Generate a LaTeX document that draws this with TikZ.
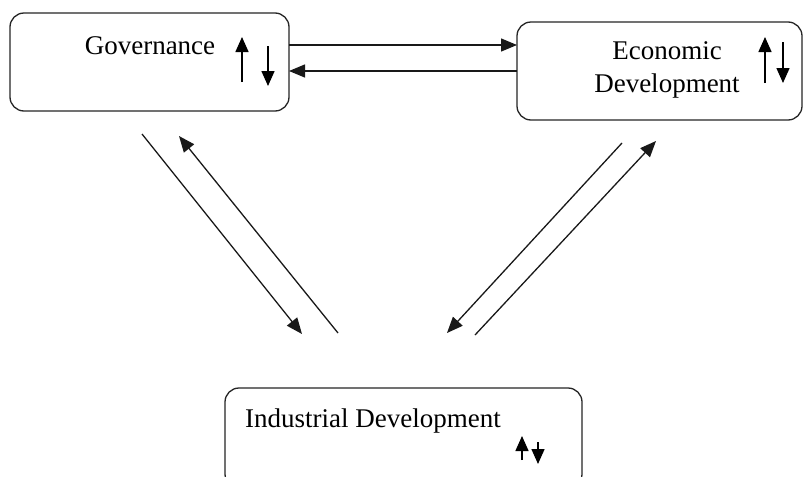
\documentclass[tikz,border=0pt]{standalone}
\usepackage{fontspec}
\setmainfont{Liberation Serif}
\usetikzlibrary{arrows.meta}
\begin{document}
\begin{tikzpicture}[x=1pt,y=-1pt,
  box/.style={draw=black!85, line width=1.3pt, rounded corners=14pt, inner sep=0pt, outer sep=0pt},
  lbl/.style={font=\fontsize{27}{33}\selectfont, inner sep=0pt, align=center},
  conn/.style={line width=1.3pt, black!90, -{Triangle[length=16pt,width=13pt]}},
  updown/.style={line width=1.5pt, -{Triangle[length=15pt,width=13pt]}}]
\clip (0,0) rectangle (804,477);
\fill[white] (0,0) rectangle (804,477);
% boxes
\node[box, minimum width=279pt, minimum height=98pt] (gov) at (149.5,62) {};
\node[box, minimum width=285pt, minimum height=98pt] (eco) at (659.5,71) {};
\node[box, minimum width=357pt, minimum height=100pt] (ind) at (403.5,438) {};
% labels
\node[lbl] (govt) at (150,46) {Governance};
\node[lbl] (ecot) at (667,70) {Economic\\Development};
\node[lbl, anchor=west] (indt) at (245,421) {Industrial Development};
% up/down arrows
\draw[updown] (242,82) -- (242,37);
\draw[updown] (268,46) -- (268,86);
\draw[updown] (765,83) -- (765,37);
\draw[updown] (783,42) -- (783,83);
\draw[updown] (522,460) -- (522,436);
\draw[updown] (538,442) -- (538,464);
% horizontal connectors
\coordinate (g1) at (289,45);
\coordinate (e1) at (517,45);
\coordinate (e2) at (517,71);
\coordinate (g2) at (289,71);
\draw[conn] (g1) -- (e1);
\draw[conn] (e2) -- (g2);
% left diagonal
\coordinate (a1) at (142,134);
\coordinate (a2) at (302,334);
\coordinate (b1) at (338,333);
\coordinate (b2) at (179,136);
\draw[conn] (a1) -- (a2);
\draw[conn] (b1) -- (b2);
% right diagonal
\coordinate (c1) at (622,143);
\coordinate (c2) at (447,333);
\coordinate (d1) at (475,335);
\coordinate (d2) at (656,141);
\draw[conn] (c1) -- (c2);
\draw[conn] (d1) -- (d2);
\end{tikzpicture}
\end{document}
